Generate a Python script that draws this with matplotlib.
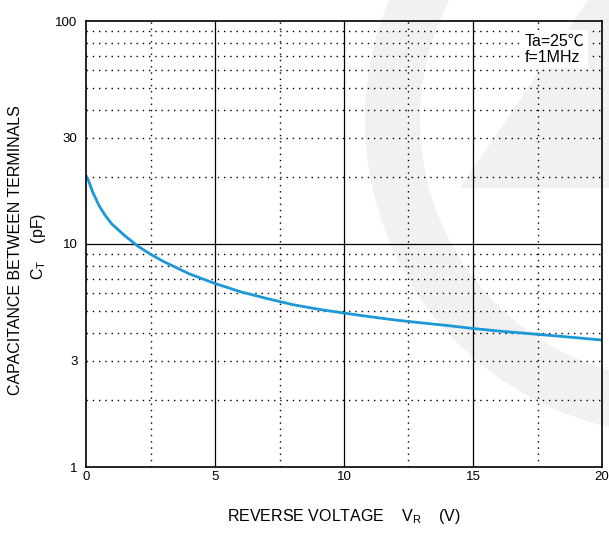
import numpy as np
import matplotlib
matplotlib.use("Agg")
import matplotlib.pyplot as plt
from matplotlib.patches import Wedge, Polygon

plt.rcParams['font.family'] = ['Liberation Sans', 'Noto Sans CJK SC', 'DejaVu Sans']
plt.rcParams['mathtext.fontset'] = 'custom'
plt.rcParams['mathtext.rm'] = 'Liberation Sans'
plt.rcParams['mathtext.it'] = 'Liberation Sans'

# Curve: reverse voltage (V) vs terminal capacitance (pF)
vr = [0, 0.1, 0.25, 0.5, 0.75, 1.0, 1.5, 2.0, 2.5, 3.0, 4.0, 5.0, 6.0, 7.0,
      8.0, 9.0, 10, 11, 12, 13, 14, 15, 16, 17, 18, 19, 20]
ct = [20.3, 19.2, 17.2, 14.9, 13.4, 12.3, 10.9, 9.8, 9.0, 8.35, 7.35, 6.65,
      6.1, 5.7, 5.35, 5.1, 4.9, 4.72, 4.56, 4.43, 4.31, 4.18, 4.07, 3.98,
      3.89, 3.8, 3.71]

x_ticks = [0, 5, 10, 15, 20]
y_ticks = [1, 3, 10, 30, 100]
x_major_grid = [5, 10, 15]
x_minor_grid = [2.5, 7.5, 12.5, 17.5]
y_major_grid = [10]
y_minor_grid = [2, 3, 4, 5, 6, 7, 8, 9, 20, 30, 40, 50, 60, 70, 80, 90]

fig = plt.figure(figsize=(6.09, 5.34), dpi=100)

# faint watermark logo behind the chart (pixel positions -> inches)
def px(x, y):
    return (x / 100.0, (534 - y) / 100.0)

ring = Wedge(px(680, 120), 3.15, 0, 360, width=0.55, facecolor='#f1f1f1',
             edgecolor='none', transform=fig.dpi_scale_trans, zorder=-5)
fig.patches.append(ring)
slash = Polygon([px(460, 188), px(588, 0), px(609, 0), px(609, 188)],
                closed=True, facecolor='#f1f1f1', edgecolor='none',
                transform=fig.dpi_scale_trans, zorder=-5)
fig.patches.append(slash)

ax = fig.add_axes([86 / 609, 67 / 534, 516 / 609, 446 / 534])
ax.set_facecolor('none')
ax.set_yscale('log')
ax.set_xlim(0, 20)
ax.set_ylim(1, 100)

# grid
for g in x_minor_grid:
    ax.axvline(g, color='black', lw=1.0, dashes=(1, 3.5), zorder=1)
for g in y_minor_grid:
    ax.axhline(g, color='black', lw=1.0, dashes=(1, 3.5), zorder=1)
for g in x_major_grid:
    ax.axvline(g, color='black', lw=0.9, zorder=1)
for g in y_major_grid:
    ax.axhline(g, color='black', lw=0.9, zorder=1)

ax.plot(vr, ct, color='#1b98d5', lw=2.0, zorder=3, solid_capstyle='butt')

ax.set_xticks(x_ticks)
ax.set_xticklabels([str(t) for t in x_ticks])
ax.set_yticks(y_ticks)
ax.set_yticklabels([str(t) for t in y_ticks])
ax.yaxis.set_minor_locator(matplotlib.ticker.NullLocator())
ax.tick_params(axis='both', length=0, labelsize=9.5, colors='black')
ax.tick_params(axis='x', pad=3)
ax.tick_params(axis='y', pad=6)
for s in ax.spines.values():
    s.set_linewidth(1.2)
    s.set_color('black')
    s.set_zorder(4)

ax.text(0.851, 0.972, 'Ta=25\u2103\nf=1MHz', transform=ax.transAxes,
        fontsize=11.5, ha='left', va='top', linespacing=1.1, zorder=5,
        family=['Liberation Sans', 'Noto Sans CJK SC'],
        bbox=dict(facecolor='white', edgecolor='none', pad=2.5))

fig.text(344 / 609, 1 - 517 / 534, r'REVERSE VOLTAGE    V$_\mathrm{R}$    (V)',
         fontsize=11.5, ha='center', va='center')
fig.text(16 / 609, 1 - 250 / 534, 'CAPACITANCE BETWEEN TERMINALS',
         fontsize=11.5, ha='center', va='center', rotation=90)
fig.text(38 / 609, 1 - 246 / 534, r'C$_\mathrm{T}$    (pF)',
         fontsize=11.5, ha='center', va='center', rotation=90)

fig.savefig('out.png', dpi=100)
